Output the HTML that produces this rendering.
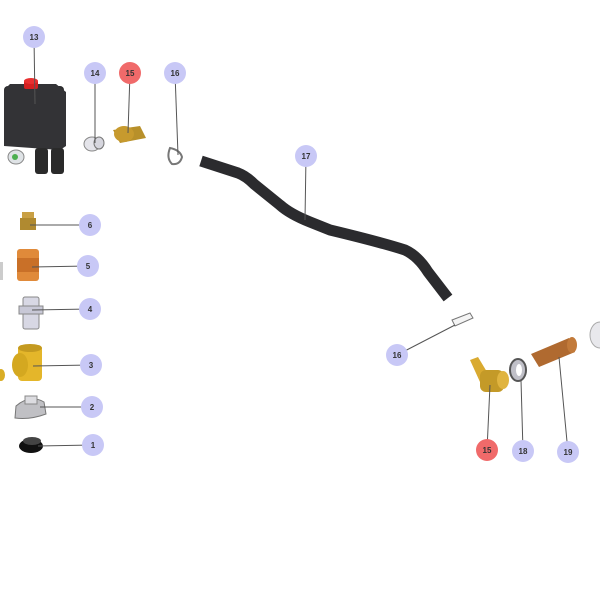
<!DOCTYPE html>
<html><head><meta charset="utf-8"><style>html,body{margin:0;padding:0;background:#fff}svg{display:block}text{font-family:"Liberation Sans",sans-serif;font-size:8px;font-weight:bold;fill:#333;text-anchor:middle}</style></head>
<body>
<svg width="600" height="600" viewBox="0 0 600 600" xmlns="http://www.w3.org/2000/svg">
<!-- hose -->
<path d="M201,161 L238,173 Q246,176 254,184 L280,205 Q290,214 310,222 L330,230 Q380,242 405,250 Q418,256 428,272 L448,298" fill="none" stroke="#2b2b2e" stroke-width="11" stroke-linecap="butt"/>
<!-- part 13 pressure switch -->
<rect x="4" y="86" width="60" height="60" rx="4" fill="#2c2c2e"/>
<path d="M4,90 L10,84 L56,84 L66,92 L66,146 L60,150 L4,146 Z" fill="#333336"/>
<rect x="24" y="80" width="14" height="9" rx="2" fill="#d42020"/>
<ellipse cx="31" cy="81" rx="7" ry="3" fill="#e83030"/>
<rect x="35" y="148" width="13" height="26" rx="3" fill="#2a2a2a"/>
<rect x="51" y="148" width="13" height="26" rx="3" fill="#2a2a2a"/>
<ellipse cx="16" cy="157" rx="8" ry="7" fill="#dfe3e6" stroke="#888"/>
<circle cx="15" cy="157" r="3" fill="#4caf50"/>
<!-- 14 -->
<ellipse cx="92" cy="144" rx="8" ry="7" fill="#e4e4ea" stroke="#888"/>
<ellipse cx="99" cy="143" rx="5" ry="6" fill="#d6d6de" stroke="#777"/>
<!-- 15 top -->
<path d="M113,130 L140,126 L146,138 L120,143 Z" fill="#b8902a"/>
<ellipse cx="124" cy="134" rx="10" ry="8" fill="#c79a2e"/>
<!-- 16 top clip -->
<path d="M170,148 Q180,150 182,157 Q180,165 172,164 Q166,158 170,148 Z" fill="none" stroke="#777" stroke-width="2"/>
<!-- 6 -->
<rect x="22" y="212" width="12" height="7" fill="#c9a044"/><rect x="20" y="218" width="16" height="12" fill="#b08a30"/>
<!-- 5 -->
<rect x="17" y="249" width="22" height="32" rx="3" fill="#e08a3a"/><rect x="17" y="258" width="22" height="14" fill="#c97028"/>
<rect x="0" y="262" width="3" height="18" fill="#ccc"/>
<!-- 4 -->
<rect x="23" y="297" width="16" height="32" rx="2" fill="#d8d8e4" stroke="#888"/><rect x="19" y="306" width="24" height="8" fill="#c8c8d6" stroke="#888"/>
<!-- 3 -->
<rect x="18" y="345" width="24" height="36" rx="4" fill="#e4b62a"/><ellipse cx="30" cy="348" rx="12" ry="4" fill="#c49a20"/>
<ellipse cx="20" cy="365" rx="8" ry="12" fill="#d4a820"/><ellipse cx="1" cy="375" rx="4" ry="6" fill="#d9ad25"/>
<!-- 2 -->
<path d="M16,406 Q30,394 44,402 L46,414 Q30,420 15,418 Z" fill="#c0c0c4" stroke="#777"/>
<rect x="25" y="396" width="12" height="8" fill="#dcdce0" stroke="#888"/>
<!-- 1 -->
<ellipse cx="31" cy="446" rx="12" ry="7" fill="#111"/><ellipse cx="32" cy="441" rx="9" ry="4" fill="#444"/>
<!-- lower 16 clip -->
<path d="M452,320 L470,313 L473,318 L455,326 Z" fill="#f4f4f4" stroke="#777"/>
<!-- lower 15 -->
<path d="M470,360 L478,357 L490,377 L480,382 Z" fill="#d9aa30"/>
<rect x="480" y="370" width="24" height="22" rx="6" fill="#c49a28"/><ellipse cx="503" cy="380" rx="6" ry="9" fill="#e0b440"/>
<!-- 18 washer -->
<ellipse cx="518" cy="370" rx="8" ry="11" fill="#c0c0c8" stroke="#555" stroke-width="2"/><ellipse cx="519" cy="370" rx="3" ry="6" fill="#fff"/>
<!-- 19 sleeve -->
<path d="M531,354 L569,338 L575,352 L539,367 Z" fill="#b06a30"/><ellipse cx="572" cy="345" rx="5" ry="8" fill="#c27a3a"/>
<ellipse cx="600" cy="335" rx="10" ry="13" fill="#e8e8ec" stroke="#aaa"/>
<!-- leader lines -->
<g stroke="#555" stroke-width="1">
<line x1="34" y1="37" x2="35" y2="104"/>
<line x1="95" y1="73" x2="95" y2="143"/>
<line x1="130" y1="73" x2="128" y2="133"/>
<line x1="175" y1="73" x2="178" y2="155"/>
<line x1="306" y1="156" x2="305" y2="220"/>
<line x1="90" y1="225" x2="30" y2="225"/>
<line x1="88" y1="266" x2="32" y2="267"/>
<line x1="90" y1="309" x2="32" y2="310"/>
<line x1="91" y1="365" x2="33" y2="366"/>
<line x1="92" y1="407" x2="40" y2="407"/>
<line x1="93" y1="445" x2="38" y2="446"/>
<line x1="397" y1="355" x2="455" y2="325"/>
<line x1="487" y1="450" x2="490" y2="385"/>
<line x1="523" y1="451" x2="521" y2="380"/>
<line x1="568" y1="452" x2="559" y2="357"/>
</g>
<!-- callouts -->
<g fill="#c8c8f6">
<circle cx="34" cy="37" r="11"/><circle cx="95" cy="73" r="11"/><circle cx="175" cy="73" r="11"/>
<circle cx="306" cy="156" r="11"/><circle cx="90" cy="225" r="11"/><circle cx="88" cy="266" r="11"/>
<circle cx="90" cy="309" r="11"/><circle cx="91" cy="365" r="11"/><circle cx="92" cy="407" r="11"/>
<circle cx="93" cy="445" r="11"/><circle cx="397" cy="355" r="11"/><circle cx="523" cy="451" r="11"/>
<circle cx="568" cy="452" r="11"/>
</g>
<g fill="#f06a6a"><circle cx="130" cy="73" r="11"/><circle cx="487" cy="450" r="11"/></g>
<text x="34" y="40">13</text><text x="95" y="76">14</text><text x="130" y="76">15</text><text x="175" y="76">16</text>
<text x="306" y="159">17</text><text x="90" y="228">6</text><text x="88" y="269">5</text><text x="90" y="312">4</text>
<text x="91" y="368">3</text><text x="92" y="410">2</text><text x="93" y="448">1</text><text x="397" y="358">16</text>
<text x="487" y="453">15</text><text x="523" y="454">18</text><text x="568" y="455">19</text>
</svg>
</body></html>
